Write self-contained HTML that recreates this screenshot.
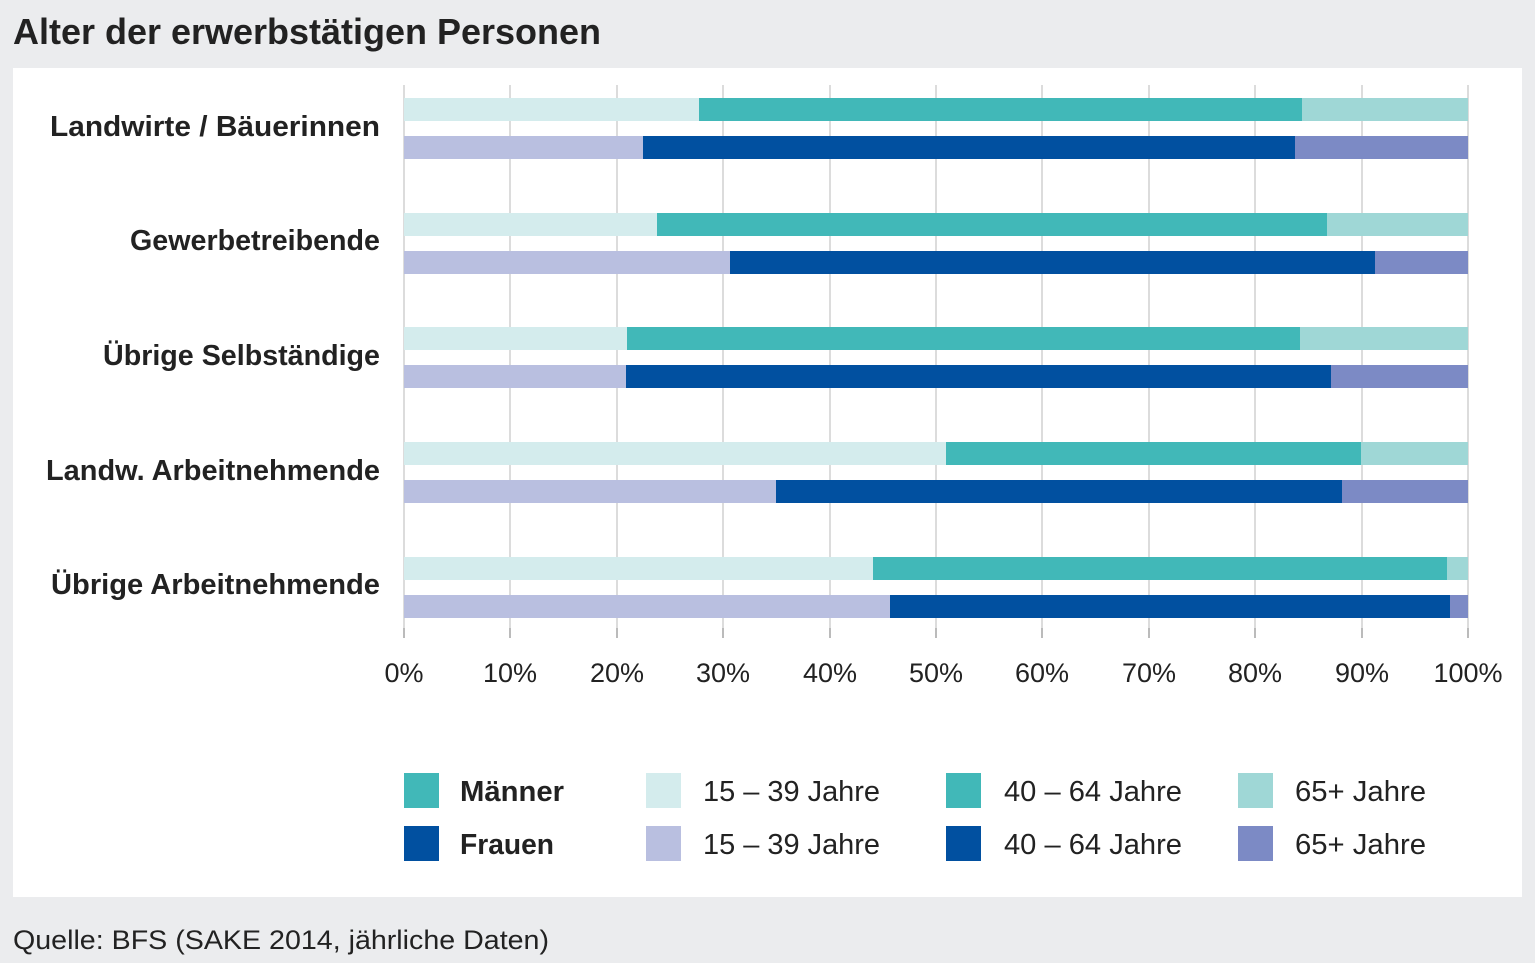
<!DOCTYPE html>
<html><head><meta charset="utf-8"><style>
html,body{margin:0;padding:0;background:#ebecee;}
svg{display:block;font-family:"Liberation Sans Narrow","Liberation Sans",sans-serif;}
</style></head><body>
<svg width="1535" height="963" viewBox="0 0 1535 963" xmlns="http://www.w3.org/2000/svg">
<rect width="1535" height="963" fill="#ebecee"/>
<text x="13" y="44" font-size="36" font-weight="bold" fill="#222" textLength="588" lengthAdjust="spacingAndGlyphs">Alter der erwerbstätigen Personen</text>
<rect x="13" y="68" width="1509" height="829" fill="#fff"/>
<g stroke="#dcdcdc" stroke-width="2">
<line x1="404" y1="85" x2="404" y2="628"/><line x1="510" y1="85" x2="510" y2="628"/><line x1="617" y1="85" x2="617" y2="628"/><line x1="723" y1="85" x2="723" y2="628"/><line x1="830" y1="85" x2="830" y2="628"/><line x1="936" y1="85" x2="936" y2="628"/><line x1="1042" y1="85" x2="1042" y2="628"/><line x1="1149" y1="85" x2="1149" y2="628"/><line x1="1255" y1="85" x2="1255" y2="628"/><line x1="1362" y1="85" x2="1362" y2="628"/><line x1="1468" y1="85" x2="1468" y2="628"/>
</g>
<g stroke="#bbb" stroke-width="2">
<line x1="404" y1="628" x2="404" y2="638"/><line x1="510" y1="628" x2="510" y2="638"/><line x1="617" y1="628" x2="617" y2="638"/><line x1="723" y1="628" x2="723" y2="638"/><line x1="830" y1="628" x2="830" y2="638"/><line x1="936" y1="628" x2="936" y2="638"/><line x1="1042" y1="628" x2="1042" y2="638"/><line x1="1149" y1="628" x2="1149" y2="638"/><line x1="1255" y1="628" x2="1255" y2="638"/><line x1="1362" y1="628" x2="1362" y2="638"/><line x1="1468" y1="628" x2="1468" y2="638"/>
</g>
<!-- bars -->
<g>
<rect x="404" y="98" width="295" height="23" fill="#d4eced"/><rect x="699" y="98" width="603" height="23" fill="#41b8b8"/><rect x="1302" y="98" width="166" height="23" fill="#9fd7d6"/>
<rect x="404" y="136" width="239" height="23" fill="#b9bfe0"/><rect x="643" y="136" width="652" height="23" fill="#0150a0"/><rect x="1295" y="136" width="173" height="23" fill="#7c8ac5"/>

<rect x="404" y="213" width="253" height="23" fill="#d4eced"/><rect x="657" y="213" width="670" height="23" fill="#41b8b8"/><rect x="1327" y="213" width="141" height="23" fill="#9fd7d6"/>
<rect x="404" y="251" width="326" height="23" fill="#b9bfe0"/><rect x="730" y="251" width="645" height="23" fill="#0150a0"/><rect x="1375" y="251" width="93" height="23" fill="#7c8ac5"/>

<rect x="404" y="327" width="223" height="23" fill="#d4eced"/><rect x="627" y="327" width="673" height="23" fill="#41b8b8"/><rect x="1300" y="327" width="168" height="23" fill="#9fd7d6"/>
<rect x="404" y="365" width="222" height="23" fill="#b9bfe0"/><rect x="626" y="365" width="705" height="23" fill="#0150a0"/><rect x="1331" y="365" width="137" height="23" fill="#7c8ac5"/>

<rect x="404" y="442" width="542" height="23" fill="#d4eced"/><rect x="946" y="442" width="415" height="23" fill="#41b8b8"/><rect x="1361" y="442" width="107" height="23" fill="#9fd7d6"/>
<rect x="404" y="480" width="372" height="23" fill="#b9bfe0"/><rect x="776" y="480" width="566" height="23" fill="#0150a0"/><rect x="1342" y="480" width="126" height="23" fill="#7c8ac5"/>

<rect x="404" y="557" width="469" height="23" fill="#d4eced"/><rect x="873" y="557" width="574" height="23" fill="#41b8b8"/><rect x="1447" y="557" width="21" height="23" fill="#9fd7d6"/>
<rect x="404" y="595" width="486" height="23" fill="#b9bfe0"/><rect x="890" y="595" width="560" height="23" fill="#0150a0"/><rect x="1450" y="595" width="18" height="23" fill="#7c8ac5"/>
</g>
<g font-size="29" font-weight="bold" fill="#222" text-anchor="end">
<text x="380" y="136" textLength="330" lengthAdjust="spacingAndGlyphs">Landwirte / Bäuerinnen</text>
<text x="380" y="250" textLength="250" lengthAdjust="spacingAndGlyphs">Gewerbetreibende</text>
<text x="380" y="365" textLength="277" lengthAdjust="spacingAndGlyphs">Übrige Selbständige</text>
<text x="380" y="480" textLength="334" lengthAdjust="spacingAndGlyphs">Landw. Arbeitnehmende</text>
<text x="380" y="594" textLength="329" lengthAdjust="spacingAndGlyphs">Übrige Arbeitnehmende</text>
</g>
<g font-size="27" fill="#222" text-anchor="middle">
<text x="404" y="682">0%</text><text x="510" y="682">10%</text><text x="617" y="682">20%</text><text x="723" y="682">30%</text><text x="830" y="682">40%</text><text x="936" y="682">50%</text><text x="1042" y="682">60%</text><text x="1149" y="682">70%</text><text x="1255" y="682">80%</text><text x="1362" y="682">90%</text><text x="1468" y="682">100%</text>
</g>
<!-- legend -->
<rect x="404" y="773" width="35" height="35" fill="#41b8b8"/><rect x="404" y="826" width="35" height="35" fill="#0150a0"/>
<rect x="646" y="773" width="35" height="35" fill="#d4eced"/><rect x="646" y="826" width="35" height="35" fill="#b9bfe0"/>
<rect x="946" y="773" width="35" height="35" fill="#41b8b8"/><rect x="946" y="826" width="35" height="35" fill="#0150a0"/>
<rect x="1238" y="773" width="35" height="35" fill="#9fd7d6"/><rect x="1238" y="826" width="35" height="35" fill="#7c8ac5"/>
<g font-size="29" fill="#222">
<text x="460" y="801" font-weight="bold" textLength="104" lengthAdjust="spacingAndGlyphs">Männer</text>
<text x="460" y="854" font-weight="bold" textLength="94" lengthAdjust="spacingAndGlyphs">Frauen</text>
<text x="703" y="801" textLength="177" lengthAdjust="spacingAndGlyphs">15 – 39 Jahre</text>
<text x="703" y="854" textLength="177" lengthAdjust="spacingAndGlyphs">15 – 39 Jahre</text>
<text x="1004" y="801" textLength="178" lengthAdjust="spacingAndGlyphs">40 – 64 Jahre</text>
<text x="1004" y="854" textLength="178" lengthAdjust="spacingAndGlyphs">40 – 64 Jahre</text>
<text x="1295" y="801" textLength="131" lengthAdjust="spacingAndGlyphs">65+ Jahre</text>
<text x="1295" y="854" textLength="131" lengthAdjust="spacingAndGlyphs">65+ Jahre</text>
</g>
<text x="13" y="949" font-size="27" fill="#222" textLength="536" lengthAdjust="spacingAndGlyphs">Quelle: BFS (SAKE 2014, jährliche Daten)</text>
</svg>
</body></html>
